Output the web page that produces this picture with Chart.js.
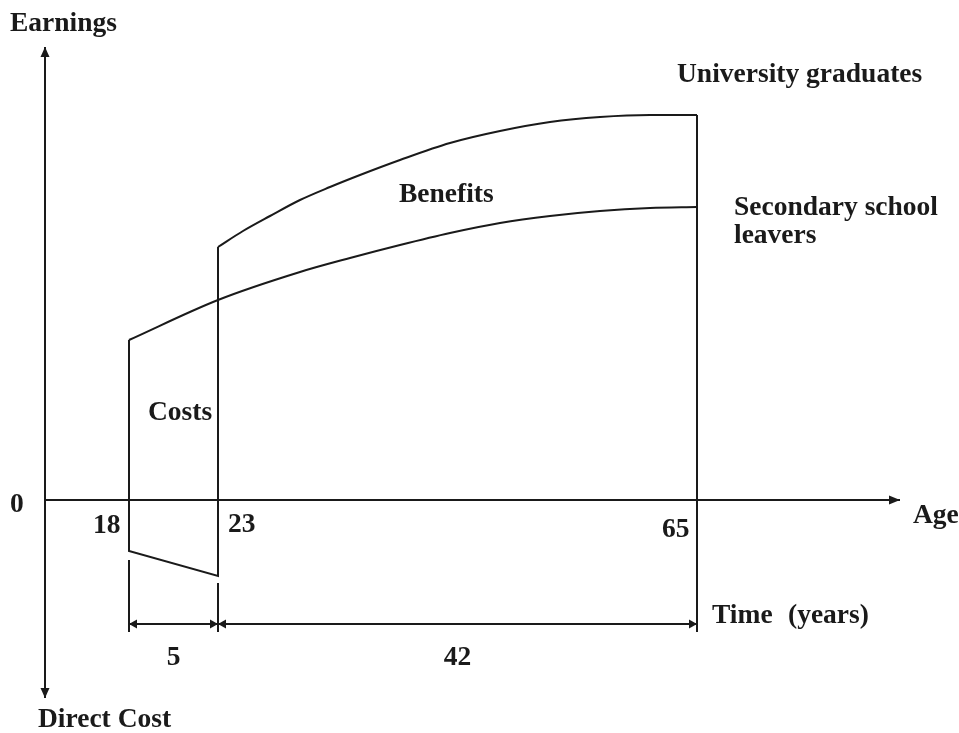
<!DOCTYPE html>
<html>
<head>
<meta charset="utf-8">
<script src="https://cdn.jsdelivr.net/npm/chart.js@4/dist/chart.umd.min.js"></script>
<style>
  html, body { margin: 0; padding: 0; background: #ffffff; }
  #wrap { width: 959px; height: 733px; position: relative; }
</style>
</head>
<body>
<div id="wrap"><canvas id="c"></canvas></div>
<script>
// ---- Data (schematic units: x = position along the age axis, y = earnings) ----
const agePos = [8.4, 17.3, 65.2];          // where ages 18, 23, 65 sit on the axis
const ageLabels = ['18', '23', '65'];
const spanLabels = ['5', '42'];           // years between the age marks

const secondaryX = [8.4, 17.3, 25.5, 30.5, 35.5, 40.5, 45.5, 50.5, 55.5, 60.5, 65.2];
const secondaryY = [32, 40, 45.6, 48.4, 51, 53.4, 55.4, 56.8, 57.8, 58.4, 58.6];

const universityX = [17.3, 19.8, 22.5, 25.5, 28.5, 31.5, 35.5, 40.5, 45.5, 50.5, 55.5, 60.5, 65.2];
const universityY = [50.6, 53.8, 56.8, 60, 62.6, 65, 68, 71.4, 73.8, 75.6, 76.6, 77, 77];

const directCost = [-10.2, -15.2];        // earnings while studying (ages 18 and 23)

// axis / dimension-line extents (chart units)
const xAxisEnd = 85.5, yAxisTop = 90.6, yAxisBottom = -39.6;
const dimY = -24.8, dimBottom = -26.4, extTop18 = -12, extTop23 = -16.6;

const pts = (xs, ys) => xs.map((x, i) => ({ x, y: ys[i] }));
const INK = '#1a1a1a';
const base = { borderColor: INK, borderWidth: 2, pointRadius: 0, fill: false, tension: 0 };

const datasets = [
  { ...base, label: 'x axis', data: [{ x: 0, y: 0 }, { x: xAxisEnd, y: 0 }] },
  { ...base, label: 'y axis', data: [{ x: 0, y: yAxisBottom }, { x: 0, y: yAxisTop }] },
  { ...base, label: 'Secondary school leavers', data: pts(secondaryX, secondaryY), cubicInterpolationMode: 'monotone' },
  { ...base, label: 'University graduates', data: pts(universityX, universityY), cubicInterpolationMode: 'monotone' },
  { ...base, label: 'University path (study)', data: [
      { x: agePos[0], y: secondaryY[0] }, { x: agePos[0], y: directCost[0] },
      { x: agePos[1], y: directCost[1] }, { x: agePos[1], y: universityY[0] } ] },
  { ...base, label: 'Retirement', data: [
      { x: agePos[2], y: universityY[universityY.length - 1] }, { x: agePos[2], y: dimBottom } ] },
  { ...base, label: 'ext 18', data: [{ x: agePos[0], y: extTop18 }, { x: agePos[0], y: dimBottom }] },
  { ...base, label: 'ext 23', data: [{ x: agePos[1], y: extTop23 }, { x: agePos[1], y: dimBottom }] },
  { ...base, label: 'dimension', data: [{ x: agePos[0], y: dimY }, { x: agePos[2], y: dimY }] }
];

const texts = [
  { t: 'Earnings', x: -3.5, y: 93.8 },
  { t: 'University graduates', x: 63.2, y: 83.6 },
  { t: 'Secondary school', x: 68.9, y: 57 },
  { t: 'leavers', x: 68.9, y: 51.4 },
  { t: 'Benefits', x: 35.4, y: 59.6 },
  { t: 'Costs', x: 10.3, y: 16 },
  { t: '0', x: -3.5, y: -2.4 },
  { t: 'Age', x: 86.8, y: -4.6 },
  { t: 'Time', x: 66.7, y: -24.6 },
  { t: '(years)', x: 74.3, y: -24.6 },
  { t: 'Direct Cost', x: -0.7, y: -45.4 }
];
const ageLabelPos = [{ x: 4.8, y: -6.6 }, { x: 18.3, y: -6.4 }, { x: 61.7, y: -7.4 }];

const decor = {
  id: 'decor',
  afterDatasetsDraw(chart) {
    const { ctx, scales: { x: sx, y: sy } } = chart;
    const X = v => sx.getPixelForValue(v), Y = v => sy.getPixelForValue(v);
    ctx.save();
    ctx.fillStyle = INK;
    const tri = (px, py, dir, len, half) => {
      ctx.beginPath();
      if (dir === 'up') { ctx.moveTo(px, py); ctx.lineTo(px - half, py + len); ctx.lineTo(px + half, py + len); }
      if (dir === 'down') { ctx.moveTo(px, py); ctx.lineTo(px - half, py - len); ctx.lineTo(px + half, py - len); }
      if (dir === 'right') { ctx.moveTo(px, py); ctx.lineTo(px - len, py - half); ctx.lineTo(px - len, py + half); }
      if (dir === 'left') { ctx.moveTo(px, py); ctx.lineTo(px + len, py - half); ctx.lineTo(px + len, py + half); }
      ctx.closePath(); ctx.fill();
    };
    // axis arrows
    tri(X(0), Y(yAxisTop), 'up', 10, 4.5);
    tri(X(0), Y(yAxisBottom), 'down', 10, 4.5);
    tri(X(xAxisEnd), Y(0), 'right', 11, 4.5);
    // dimension arrows
    tri(X(agePos[0]), Y(dimY), 'left', 8, 4.5);
    tri(X(agePos[1]), Y(dimY), 'right', 8, 4.5);
    tri(X(agePos[1]), Y(dimY), 'left', 8, 4.5);
    tri(X(agePos[2]), Y(dimY), 'right', 8, 4.5);

    ctx.font = 'bold 27.5px "Liberation Serif", "DejaVu Serif", serif';
    ctx.textBaseline = 'alphabetic';
    ctx.textAlign = 'left';
    texts.forEach(o => ctx.fillText(o.t, X(o.x), Y(o.y)));
    ageLabels.forEach((l, i) => ctx.fillText(l, X(ageLabelPos[i].x), Y(ageLabelPos[i].y)));
    ctx.textAlign = 'center';
    spanLabels.forEach((l, i) => {
      ctx.fillText(l, (X(agePos[i]) + X(agePos[i + 1])) / 2, Y(-33));
    });
    ctx.restore();
  }
};

new Chart(document.getElementById('c'), {
  type: 'scatter',
  data: { datasets: datasets.map(d => ({ ...d, showLine: true })) },
  options: {
    responsive: true,
    maintainAspectRatio: false,
    animation: false,
    events: [],
    layout: { padding: 0 },
    plugins: { legend: { display: false }, tooltip: { enabled: false }, title: { display: false } },
    scales: {
      x: { type: 'linear', display: false, min: -4.5, max: 91.4 },
      y: { type: 'linear', display: false, min: -46.6, max: 100 }
    }
  },
  plugins: [decor]
});
</script>
</body>
</html>
